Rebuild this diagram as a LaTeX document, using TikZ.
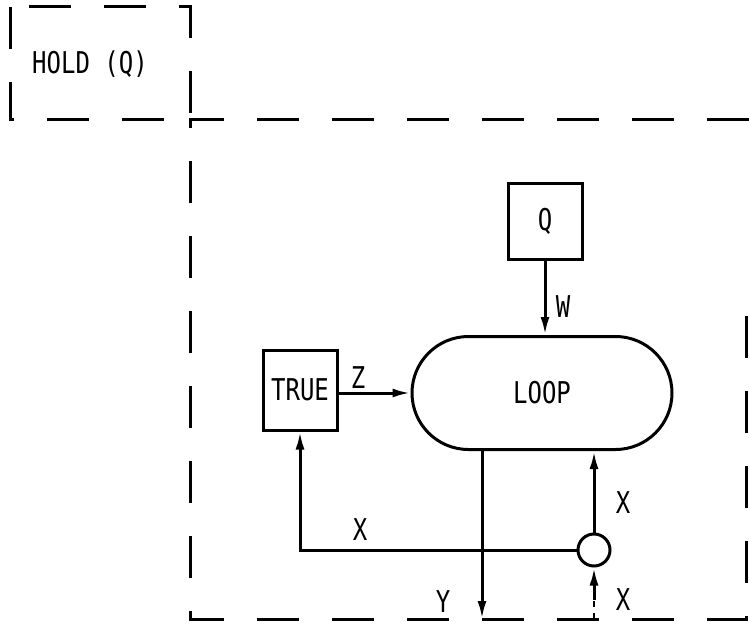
\documentclass[tikz,border=0pt]{standalone}
\usepackage{fontspec}
\newfontfamily\labelfont[FakeStretch=0.8]{DejaVu Sans Mono}
\usetikzlibrary{arrows.meta, positioning, calc}

\begin{document}
\begin{tikzpicture}[x=0.5pt, y=-0.5pt, line width=1.5pt,
        font=\labelfont\fontsize{15}{18}\selectfont,
        frame/.style={dash pattern=on 21pt off 16.5pt},
        box/.style={draw, inner sep=0pt},
        flow/.style={-{Latex[length=9pt,width=4.5pt]}},
        lbl/.style={inner sep=0pt}]
        \useasboundingbox (0,0) rectangle (749,626);

        % Hold frame
        \draw[frame] (10,7) rectangle (190,120);
        \node[lbl] (holdlabel) at (90,64) {HOLD (Q)};

        % Body frame
        \draw[frame] (749,120) -- (190,120) -- (190,619) -- (746,619) -- (746,300);

        % Blocks
        \node[box, minimum width=37pt, minimum height=38pt] (qbox) at (545,221) {Q};
        \node[box, minimum width=37pt, minimum height=40pt] (truebox) at (300,390) {TRUE};
        \node[box, rounded corners=28.25pt, minimum width=130pt, minimum height=56.5pt] (loop) at (542,393) {LOOP};
        \node[box, circle, minimum size=16pt] (junction) at (594,550) {};

        % Free ends on the frame
        \coordinate (yout) at (482,619);
        \coordinate (xin) at (594,619);
        \coordinate (xdash) at (594,600);

        % Connectors
        \draw[flow] (qbox.south) -- (qbox.south |- loop.north);
        \draw[flow] (truebox.east |- loop.west) -- (loop.west);
        \draw[flow] (loop.south -| yout) -- (yout);
        \draw[flow] (junction.north) -- (junction.north |- loop.south);
        \draw[flow] (junction.west) -| (truebox.south);
        \draw[dashed, line width=1pt] (xin) -- (xdash);
        \draw[flow] (xdash) -- (junction.south);

        % Signal names
        \node[lbl] (wlabel) at (563,307) {W};
        \node[lbl] (zlabel) at (358,378) {Z};
        \node[lbl] (ylabel) at (443,602) {Y};
        \node[lbl] (xleft) at (360,530) {X};
        \node[lbl] (xup) at (623,503) {X};
        \node[lbl] (xlow) at (623,600) {X};

    \end{tikzpicture}
\end{document}
